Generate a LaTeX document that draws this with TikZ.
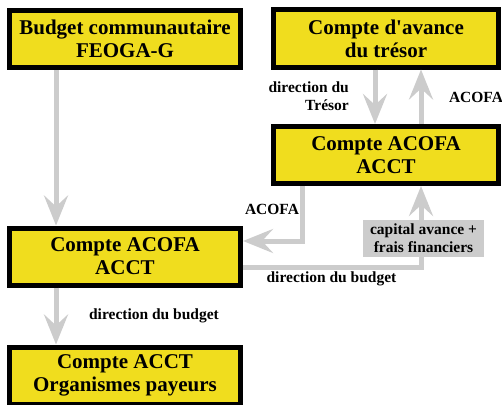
\documentclass[tikz,border=0pt]{standalone}
\usepackage{fontspec}
\setmainfont{Liberation Serif}
\usetikzlibrary{arrows.meta}
\definecolor{boxyellow}{RGB}{240,221,30}
\definecolor{arrgray}{RGB}{204,204,204}
\begin{document}
\begin{tikzpicture}[x=1pt,y=-1pt,
  box/.style={draw=black,line width=5pt,fill=boxyellow,minimum height=57pt,
    align=center,inner sep=0pt,font=\bfseries\fontsize{21}{23}\selectfont},
  lbox/.style={box,minimum width=231pt},
  rbox/.style={box,minimum width=225pt},
  lbl/.style={font=\bfseries\fontsize{15.5}{18}\selectfont,inner sep=0pt},
  glbl/.style={lbl,fill=arrgray,minimum width=121pt,minimum height=37pt,align=center},
  arr/.style={draw=arrgray,line width=5pt,-{Stealth[length=30pt,width=24pt,inset=11pt]}}]
\useasboundingbox (0,0) rectangle (502,404);
\node[lbox] (b1) at (125,39) {Budget communautaire\\FEOGA-G};
\node[rbox] (b2) at (386,38.5) {Compte d\textquotesingle avance\\du trésor};
\node[rbox] (b3) at (386,155) {Compte ACOFA\\ACCT};
\node[lbox] (b4) at (125,256.5) {Compte ACOFA\\ACCT};
\node[lbox] (b5) at (125,375.5) {Compte ACCT\\Organismes payeurs};
\coordinate (x56) at (56,0);
\coordinate (x302) at (302,0);
\coordinate (x375) at (375,0);
\coordinate (x421) at (421,0);
\coordinate (y241) at (0,241);
\coordinate (y267) at (0,267);
\draw[arr] (b1.south -| x56) -- (b4.north -| x56);
\draw[arr] (b4.south -| x56) -- (b5.north -| x56);
\draw[arr] (b2.south -| x375) -- (b3.north -| x375);
\draw[arr] (b3.north -| x421) -- (b2.south -| x421);
\draw[arr] (b3.south -| x302) |- (b4.east |- y241);
\draw[arr] (b4.east |- y267) -| (b3.south -| x421);
\node[glbl] (cap) at (423.5,238.5) {capital avance +\\frais financiers};
\node[lbl,align=right,anchor=east] (lt) at (349,96) {direction du\\Trésor};
\node[lbl] (la1) at (476,97) {ACOFA};
\node[lbl] (la2) at (272,209) {ACOFA};
\node[lbl] (ld1) at (331.5,279) {direction du budget};
\node[lbl] (ld2) at (154,316) {direction du budget};
\end{tikzpicture}
\end{document}
